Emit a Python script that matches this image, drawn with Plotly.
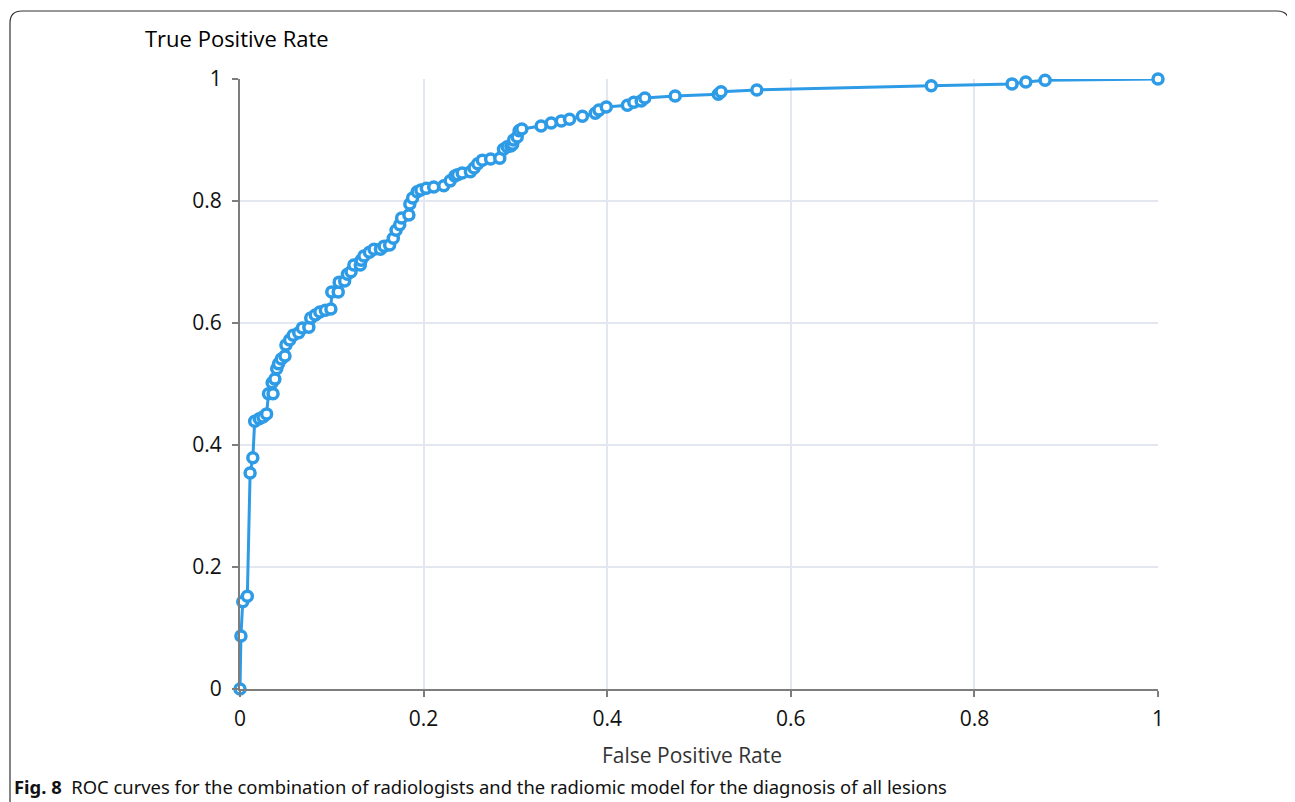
import plotly.graph_objects as go

# ROC curve points
fpr = [0.000, 0.001, 0.003, 0.008, 0.011, 0.014, 0.016, 0.021, 0.025, 0.029,
       0.031, 0.036, 0.035, 0.038, 0.040, 0.042, 0.045, 0.049, 0.050, 0.054,
       0.058, 0.064, 0.068, 0.075, 0.077, 0.082, 0.087, 0.093, 0.099, 0.100,
       0.107, 0.108, 0.114, 0.117, 0.121, 0.124, 0.131, 0.132, 0.135, 0.141,
       0.146, 0.153, 0.157, 0.163, 0.167, 0.170, 0.174, 0.176, 0.184, 0.185,
       0.188, 0.193, 0.197, 0.203, 0.211, 0.222, 0.229, 0.234, 0.237, 0.242,
       0.251, 0.255, 0.259, 0.264, 0.273, 0.283, 0.287, 0.291, 0.295, 0.297,
       0.298, 0.302, 0.304, 0.307, 0.328, 0.339, 0.350, 0.359, 0.373, 0.387,
       0.391, 0.399, 0.422, 0.429, 0.437, 0.441, 0.474, 0.521, 0.524, 0.563,
       0.753, 0.841, 0.856, 0.877, 1.000]
tpr = [0.000, 0.087, 0.143, 0.152, 0.354, 0.379, 0.439, 0.443, 0.446, 0.451,
       0.484, 0.484, 0.502, 0.508, 0.525, 0.533, 0.541, 0.546, 0.564, 0.572,
       0.580, 0.584, 0.592, 0.593, 0.608, 0.613, 0.618, 0.621, 0.623, 0.651,
       0.651, 0.667, 0.669, 0.680, 0.684, 0.695, 0.695, 0.703, 0.710, 0.716,
       0.721, 0.721, 0.726, 0.728, 0.739, 0.752, 0.761, 0.772, 0.777, 0.795,
       0.805, 0.815, 0.818, 0.821, 0.823, 0.825, 0.833, 0.841, 0.843, 0.846,
       0.848, 0.854, 0.861, 0.867, 0.869, 0.870, 0.885, 0.889, 0.890, 0.893,
       0.900, 0.905, 0.915, 0.918, 0.923, 0.928, 0.931, 0.934, 0.939, 0.944,
       0.949, 0.954, 0.957, 0.962, 0.964, 0.969, 0.972, 0.975, 0.979, 0.982,
       0.989, 0.992, 0.995, 0.998, 1.000]

tick_vals = [0, 0.2, 0.4, 0.6, 0.8, 1]
tick_text = ["0", "0.2", "0.4", "0.6", "0.8", "1"]

y_title = "True Positive Rate"
x_title = "False Positive Rate"
caption_bold = "Fig. 8"
caption_text = "ROC curves for the combination of radiologists and the radiomic model for the diagnosis of all lesions"

LINE = "#2e9be6"
FONT = "Open Sans"

fig = go.Figure()
fig.add_trace(go.Scatter(
    x=fpr, y=tpr, mode="lines+markers",
    line=dict(color=LINE, width=3),
    marker=dict(symbol="circle", size=10, color="white",
                line=dict(color=LINE, width=3.5)),
    cliponaxis=False, showlegend=False, hoverinfo="x+y"))

OFF = 8  # page body margin
L, R, T, B = 240 - OFF, 137, 79 - OFF, 113
W, H = 1295 - OFF, 802 - OFF
pw, ph = W - L - R, H - T - B

def px(x):
    return (x - OFF - L) / pw

def py(y):
    return (H - B - (y - OFF)) / ph

fig.update_layout(
    width=W, height=H,
    margin=dict(l=L, r=R, t=T, b=B),
    paper_bgcolor="white", plot_bgcolor="white",
    font=dict(family=FONT, color="#222222"),
    xaxis=dict(range=[0, 1], tickvals=tick_vals, ticktext=tick_text,
               showgrid=True, gridcolor="#e3e7ef", gridwidth=1.5,
               zeroline=False, showline=True, linecolor="#7d7d7d", linewidth=2,
               ticks="outside", ticklen=6, tickcolor="#7d7d7d", tickwidth=2,
               tickfont=dict(size=21, color="#111111"), ticklabelstandoff=4,
               fixedrange=True),
    yaxis=dict(range=[0, 1], tickvals=tick_vals, ticktext=tick_text,
               showgrid=True, gridcolor="#e3e7ef", gridwidth=1.5,
               zeroline=False, showline=True, linecolor="#7d7d7d", linewidth=2,
               ticks="outside", ticklen=6, tickcolor="#7d7d7d", tickwidth=2,
               tickfont=dict(size=21, color="#111111"), ticklabelstandoff=6,
               fixedrange=True),
)

# rounded frame around figure
x0, x1 = px(10), px(1289)
y0, y1 = py(815), py(11)
rx, ry = 12 / pw, 12 / ph
path = (f"M {x0},{y0} L {x0},{y1 - ry} Q {x0},{y1} {x0 + rx},{y1} "
        f"L {x1 - rx},{y1} Q {x1},{y1} {x1},{y1 - ry} L {x1},{y0}")
fig.add_shape(type="path", path=path, xref="paper", yref="paper",
              line=dict(color="#333333", width=1.2), layer="below")

fig.add_annotation(text=y_title, x=px(143), y=py(38), xref="paper", yref="paper",
                   xanchor="left", yanchor="middle", showarrow=False,
                   font=dict(size=22, color="#000000", family=FONT))
fig.add_annotation(text=x_title, x=px(692), y=py(755), xref="paper", yref="paper",
                   xanchor="center", yanchor="middle", showarrow=False,
                   font=dict(size=21, color="#333333", family=FONT))
fig.add_annotation(text=f"<b>{caption_bold}</b>  {caption_text}",
                   x=px(12), y=py(786), xref="paper", yref="paper",
                   xanchor="left", yanchor="middle", showarrow=False,
                   font=dict(size=18.4, color="#111111", family="Noto Sans"))

fig.write_html("out.html")
